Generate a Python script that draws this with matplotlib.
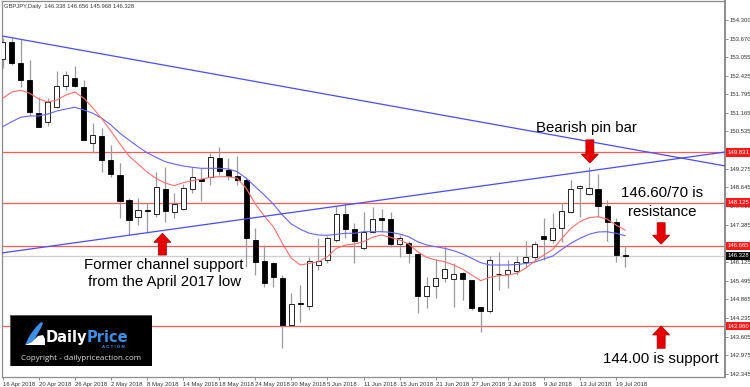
import numpy as np
import matplotlib
matplotlib.use('Agg')
import matplotlib.pyplot as plt
from matplotlib.patches import Polygon, Rectangle
import matplotlib.transforms as mtransforms

plt.rcParams['font.family'] = ['Liberation Sans', 'DejaVu Sans']

# GBPJPY daily, 16 Apr 2018 .. 20 Jul 2018 (one bar per weekday)
opens = [152.97, 153.57, 152.84, 152.27, 151.17, 150.84, 151.37, 152.07, 152.35, 152.05,
         150.15, 150.38, 149.57, 149.06, 148.22, 147.66, 147.86, 147.75, 148.58, 147.82,
         147.90, 148.58, 148.93, 149.01, 149.63, 149.23, 149.03, 148.89, 146.87, 146.16,
         146.10, 145.57, 143.99, 144.72, 144.65, 146.02, 146.19, 146.87, 147.75, 147.23,
         146.61, 147.15, 147.60, 147.57, 146.72, 146.76, 146.39, 144.98, 145.32, 145.57,
         145.55, 145.74, 145.52, 144.60, 144.48, 145.73, 145.71, 145.83, 146.11, 146.28,
         147.01, 146.87, 147.26, 147.82, 148.61, 148.41, 148.58, 148.02, 147.49, 146.338]
highs = [153.70, 153.68, 153.65, 152.95, 151.71, 151.65, 152.59, 152.59, 152.75, 152.27,
         150.81, 150.64, 150.08, 149.46, 148.28, 148.28, 148.11, 149.18, 149.32, 148.47,
         148.75, 149.32, 149.29, 149.82, 150.02, 149.63, 149.71, 149.01, 147.26, 146.70,
         146.13, 145.69, 145.07, 145.35, 146.30, 146.92, 147.00, 148.02, 148.11, 147.43,
         147.82, 147.99, 147.90, 147.82, 147.04, 146.84, 146.44, 145.63, 146.23, 146.66,
         146.08, 145.80, 145.52, 144.62, 146.33, 146.47, 146.19, 146.33, 146.84, 146.84,
         147.60, 147.77, 148.11, 148.89, 148.73, 149.32, 149.10, 148.22, 147.60, 146.656]
lows = [152.67, 152.78, 152.05, 151.09, 150.68, 150.72, 151.32, 151.94, 152.05, 150.25,
        149.82, 149.18, 149.01, 147.60, 147.04, 147.37, 147.09, 147.66, 147.49, 147.60,
        147.87, 148.45, 148.19, 148.73, 149.06, 148.89, 148.73, 145.97, 145.69, 145.29,
        145.29, 143.21, 143.96, 144.11, 144.50, 145.85, 146.08, 146.81, 146.92, 146.10,
        146.53, 147.09, 147.15, 146.64, 146.30, 146.10, 144.39, 144.58, 144.90, 145.46,
        144.61, 144.84, 144.50, 143.77, 144.39, 145.18, 145.24, 145.69, 145.95, 146.15,
        146.19, 146.78, 146.81, 147.79, 147.66, 148.39, 147.66, 146.84, 146.13, 145.968]
closes = [153.57, 152.84, 152.27, 151.20, 150.70, 151.54, 152.08, 152.44, 152.08, 150.25,
          150.41, 149.57, 149.10, 148.20, 147.54, 147.88, 147.84, 148.65, 147.86, 148.08,
          148.61, 148.99, 148.87, 149.68, 149.21, 149.03, 148.89, 146.92, 146.13, 145.40,
          145.63, 143.99, 144.71, 144.70, 146.17, 146.17, 146.92, 147.75, 147.24, 146.84,
          147.15, 147.58, 147.55, 146.72, 146.95, 146.42, 144.98, 145.31, 145.59, 145.88,
          145.72, 145.54, 144.56, 144.48, 146.19, 145.71, 145.85, 146.13, 146.28, 146.74,
          146.90, 147.26, 147.86, 148.58, 148.69, 148.61, 148.02, 147.49, 146.36, 146.328]

# moving averages (red = fast, blue = slow)
ma_fast = [151.655, 151.868, 151.925, 151.824, 151.631, 151.530, 151.597, 151.766, 151.868, 151.655,
           151.327, 150.955, 150.550, 150.111, 149.705, 149.435, 149.165, 148.952, 148.793, 148.702,
           148.803, 148.871, 148.918, 148.986, 149.006, 149.006, 148.952, 148.614, 148.084, 147.678,
           147.317, 146.756, 146.249, 146.023, 146.080, 146.134, 146.303, 146.587, 146.699, 146.732,
           146.810, 146.959, 147.036, 146.959, 146.868, 146.732, 146.472, 146.283, 146.192, 146.134,
           146.023, 145.878, 145.685, 145.493, 145.607, 145.661, 145.685, 145.743, 145.922, 146.158,
           146.361, 146.553, 146.925, 147.263, 147.486, 147.621, 147.655, 147.577, 147.374, 147.205]
ma_slow = [150.695, 150.864, 151.013, 151.057, 151.057, 151.124, 151.226, 151.293, 151.351, 151.259,
           151.148, 150.979, 150.753, 150.472, 150.246, 150.020, 149.817, 149.661, 149.513, 149.435,
           149.368, 149.324, 149.290, 149.290, 149.290, 149.266, 149.175, 148.952, 148.668, 148.388,
           148.084, 147.712, 147.408, 147.229, 147.094, 147.036, 147.026, 147.060, 147.094, 147.094,
           147.148, 147.148, 147.148, 147.128, 147.070, 146.979, 146.810, 146.699, 146.641, 146.587,
           146.506, 146.395, 146.249, 146.101, 146.023, 146.023, 146.023, 146.040, 146.074, 146.124,
           146.226, 146.327, 146.553, 146.756, 146.925, 147.060, 147.138, 147.148, 147.094, 147.013]

tick_idx = list(range(0, 69, 4))
tick_labels = ['16 Apr 2018', '20 Apr 2018', '26 Apr 2018', '2 May 2018', '8 May 2018',
               '14 May 2018', '18 May 2018', '24 May 2018', '30 May 2018', '5 Jun 2018',
               '11 Jun 2018', '15 Jun 2018', '21 Jun 2018', '27 Jun 2018', '3 Jul 2018',
               '9 Jul 2018', '13 Jul 2018', '19 Jul 2018']

# 149.905 and 146.755 sit under the red level tags, so they are not shown
ytick_labels = ['154.300', '153.670', '153.055', '152.425', '151.795', '151.165', '150.535',
                '149.275', '148.645', '148.015', '147.385', '146.125',
                '145.495', '144.865', '144.235', '143.605', '142.975', '142.345']
ytick_vals = [float(v) for v in ytick_labels]

levels = [149.831, 148.125, 146.665, 143.960]
last_price = 146.328
down_trend = [(-0.08, 80.08), (153.76, 149.37)]
up_trend = [(-0.08, 80.08), (146.43, 149.84)]

n = len(opens)
idx = np.arange(n)
o = np.array(opens)
c = np.array(closes)

fig = plt.figure(figsize=(7.5, 3.87), dpi=100)
ax = fig.add_axes([2/750, 10/387, 723/750, 376/387])
ax.set_xlim(-0.08, 80.08)
ax.set_ylim(142.239, 154.942)

for lvl in levels:
    ax.axhline(lvl, color='#ff5a5a', lw=0.9, zorder=1)
ax.axhline(last_price, color='#cfcfcf', lw=0.9, zorder=1)

# candles
bull = c >= o
ax.vlines(idx, lows, highs, color='#9a9a9a', lw=0.9, zorder=3)
body_lo = np.minimum(o, c)
body_h = np.maximum(np.abs(c - o), 0.025)
ax.bar(idx[bull], body_h[bull], bottom=body_lo[bull], width=0.56,
       color='white', edgecolor='black', lw=0.6, zorder=4)
ax.bar(idx[~bull], body_h[~bull], bottom=body_lo[~bull], width=0.56,
       color='black', edgecolor='black', lw=0.6, zorder=4)

ax.plot(idx, ma_slow, color='#6464ff', lw=0.8, zorder=5)
ax.plot(idx, ma_fast, color='#ff6e6e', lw=0.8, zorder=5)
ax.plot(down_trend[0], down_trend[1], color='#4b4bff', lw=0.9, zorder=5)
ax.plot(up_trend[0], up_trend[1], color='#4b4bff', lw=0.9, zorder=5)


def block_arrow(x, tip, length, up):
    s = 1 if up else -1
    tail = tip - s * length
    neck = tip - s * 0.30
    pts = [(x - 0.44, tail), (x + 0.44, tail), (x + 0.44, neck), (x + 0.94, neck),
           (x, tip), (x - 0.94, neck), (x - 0.44, neck)]
    ax.add_patch(Polygon(pts, closed=True, facecolor='#e60000', edgecolor='#b00000',
                         lw=0.6, zorder=6))


block_arrow(65.1, 149.47, 0.78, up=False)
block_arrow(73.0, 146.73, 0.72, up=False)
block_arrow(73.0, 143.96, 0.75, up=True)
block_arrow(17.7, 147.09, 0.73, up=True)

tkw = dict(fontsize=10.8, color='black', ha='center', va='center', zorder=7)
ax.text(64.7, 150.65, 'Bearish pin bar', **tkw)
ax.text(73.1, 148.46, '146.60/70 is', **tkw)
ax.text(73.1, 147.83, 'resistance', **tkw)
ax.text(73.0, 142.84, '144.00 is support', **tkw)
ax.text(17.9, 146.02, 'Former channel support', **tkw)
ax.text(17.9, 145.44, 'from the April 2017 low', **tkw)

ax.text(0.003, 0.992, 'GBPJPY,Daily  146.338 146.656 145.968 146.328', transform=ax.transAxes,
        fontsize=4.2, color='#3a3a3a', ha='left', va='top')

# axes styling
for s in ax.spines.values():
    s.set_color('#8c8c8c')
    s.set_linewidth(0.9)
ax.spines['right'].set_linewidth(1.4)

ax.set_xticks(tick_idx)
ax.set_xticklabels(tick_labels)
ax.tick_params(axis='x', length=2.5, width=0.6, color='#808080', pad=1.0,
               labelsize=4.3, labelcolor='#333333')
for t in ax.get_xticklabels():
    t.set_ha('left')

ax.yaxis.tick_right()
ax.set_yticks(ytick_vals)
ax.set_yticklabels(ytick_labels)
ax.tick_params(axis='y', length=1.8, width=0.6, color='#808080', pad=1.5,
               labelsize=4.3, labelcolor='#333333')

# price labels on the right axis
trans = mtransforms.blended_transform_factory(ax.transAxes, ax.transData)
for lvl in levels:
    ax.add_patch(Rectangle((1.0015, lvl - 0.15), 0.033, 0.30, transform=trans,
                           facecolor='#ff1a1a', edgecolor='none', clip_on=False, zorder=8))
    ax.text(1.004, lvl, f'{lvl:.3f}', transform=trans, fontsize=4.3, color='white',
            ha='left', va='center', clip_on=False, zorder=9)
ax.add_patch(Rectangle((1.0015, last_price - 0.15), 0.033, 0.30, transform=trans,
                       facecolor='black', edgecolor='none', clip_on=False, zorder=8))
ax.text(1.004, last_price, f'{last_price:.3f}', transform=trans, fontsize=4.3, color='white',
        ha='left', va='center', clip_on=False, zorder=9)

# logo box
lg = fig.add_axes([10/750, 1 - 366/387, 142/750, 51/387])
lg.set_xlim(0, 142)
lg.set_ylim(51, 0)
lg.axis('off')
lg.add_patch(Rectangle((0, 0), 142, 51, facecolor='black', edgecolor='#444444', lw=0.5))
lg.add_patch(Polygon([(15, 30), (20, 20), (26, 12), (31, 7), (33, 8), (31, 13), (27, 20), (24, 26)],
                     closed=True, facecolor='#3d8fe6', edgecolor='none'))
lg.add_patch(Polygon([(22, 27), (28, 21), (33, 20), (35, 24), (35, 30), (15, 30)],
                     closed=True, facecolor='white', edgecolor='none'))
lg.text(36, 27, 'Daily', fontsize=10.5, fontweight='bold', color='white',
        family='DejaVu Sans', ha='left', va='baseline')
lg.text(77, 27, 'Price', fontsize=10.5, fontweight='bold', color='#3d8fe6',
        family='DejaVu Sans', ha='left', va='baseline')
lg.text(103, 32, 'A C T I O N', fontsize=3.2, fontweight='bold', color='#3d8fe6',
        ha='center', va='center')
lg.text(71, 44, 'Copyright - dailypriceaction.com', fontsize=5.8, color='#e0e0e0',
        ha='center', va='center', family='Open Sans')

fig.savefig('out.png', dpi=100, facecolor='white')
